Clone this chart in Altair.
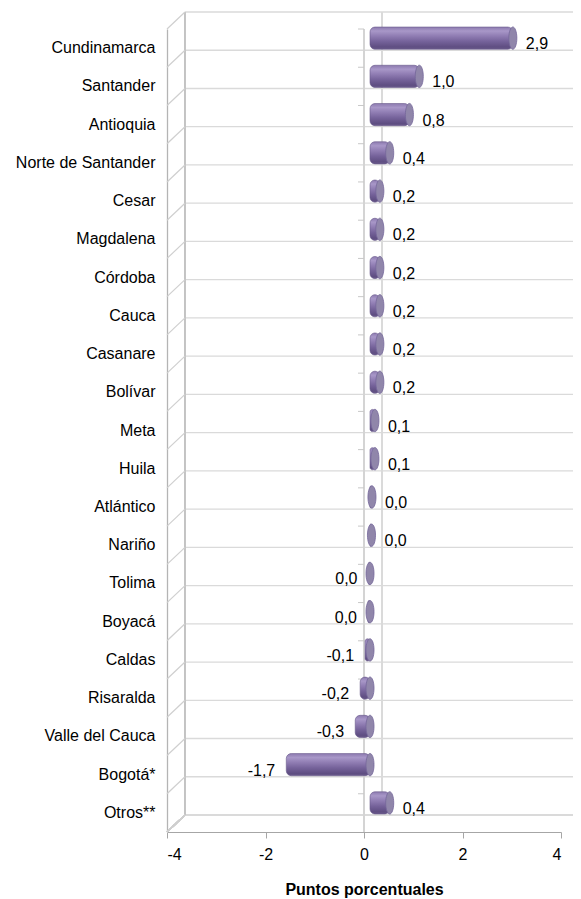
import altair as alt
import pandas as pd

# ---- data ----
departamentos = ["Cundinamarca", "Santander", "Antioquia", "Norte de Santander", "Cesar",
                 "Magdalena", "Córdoba", "Cauca", "Casanare", "Bolívar", "Meta", "Huila",
                 "Atlántico", "Nariño", "Tolima", "Boyacá", "Caldas", "Risaralda",
                 "Valle del Cauca", "Bogotá*", "Otros**"]
valores = [2.9, 1.0, 0.8, 0.4, 0.2, 0.2, 0.2, 0.2, 0.2, 0.2, 0.1, 0.1,
           0.04, 0.03, -0.03, -0.04, -0.1, -0.2, -0.3, -1.7, 0.4]
etiquetas = ["2,9", "1,0", "0,8", "0,4", "0,2", "0,2", "0,2", "0,2", "0,2", "0,2", "0,1", "0,1",
             "0,0", "0,0", "0,0", "0,0", "-0,1", "-0,2", "-0,3", "-1,7", "0,4"]
x_ticks = [-4, -2, 0, 2, 4]

df = pd.DataFrame({"dep": departamentos, "val": valores, "lab": etiquetas})
df["cap"] = df["val"].clip(lower=0)

W, H = 394, 803
DX, DY = 18, -17          # depth shift of the back plane
BX, BY = 6, -10           # depth shift of the bars
FONT = "Liberation Sans"
FS = 16

xs = alt.Scale(domain=[-4, 4], nice=False, zero=False)
ys = alt.Scale(domain=departamentos, paddingInner=0, paddingOuter=0)

yaxis = alt.Axis(ticks=False, labelPadding=12, domainColor="#b4b4b4", domainWidth=1.3,
                 title=None, grid=False)

base = alt.Chart(df)

def ycat(bp):
    return alt.Y("dep:N", sort=departamentos, scale=ys, bandPosition=bp, axis=yaxis)

# back wall horizontal gridlines
back_h = base.mark_rule(color="#dadada", strokeWidth=1.3, xOffset=DX, x2Offset=DX, yOffset=DY).encode(
    y=ycat(0), x=alt.value(0), x2=alt.value(W))
back_h_bottom = base.mark_rule(color="#dadada", strokeWidth=1.3, xOffset=DX, x2Offset=DX, yOffset=DY).encode(
    y=alt.value(H), x=alt.value(0), x2=alt.value(W))

# back wall vertical edge (-4) and zero gridline
back_edge = base.mark_rule(color="#c4c4c4", strokeWidth=1.3, xOffset=DX, yOffset=DY, y2Offset=DY).encode(
    x=alt.value(0), y=alt.value(0), y2=alt.value(H))
back_zero = base.mark_rule(color="#dadada", strokeWidth=1.3, xOffset=DX, yOffset=DY, y2Offset=DY).encode(
    x=alt.datum(0, scale=xs), y=alt.value(0), y2=alt.value(H))

# left wall diagonals
diag = base.mark_rule(color="#cfcfcf", strokeWidth=1.2, y2Offset=DY).encode(
    x=alt.value(0), x2=alt.value(DX), y=ycat(0), y2=alt.Y2("dep:N", bandPosition=0))
diag_bottom = base.mark_rule(color="#cfcfcf", strokeWidth=1.2).encode(
    x=alt.value(0), x2=alt.value(DX), y=alt.value(H), y2=alt.value(H + DY))

# front category axis at zero with tick marks
front_zero = base.mark_rule(color="#d4d4d4", strokeWidth=1.3).encode(
    x=alt.datum(0, scale=xs), y=alt.value(0), y2=alt.value(H))
front_ticks = base.mark_rule(color="#c8c8c8", strokeWidth=1, x2Offset=-6).encode(
    x=alt.datum(0, scale=xs), x2=alt.datum(0), y=ycat(0))

grad = alt.Gradient(
    gradient="linear", x1=0, y1=0, x2=0, y2=1,
    stops=[alt.GradientStop(color="#8c7aaf", offset=0),
           alt.GradientStop(color="#a897c8", offset=0.18),
           alt.GradientStop(color="#907db3", offset=0.4),
           alt.GradientStop(color="#75629a", offset=0.65),
           alt.GradientStop(color="#5f4e82", offset=0.9),
           alt.GradientStop(color="#6a5a8b", offset=1)])

bars = base.mark_bar(fill=grad, stroke="#6a5a8b", strokeWidth=0.6, cornerRadius=5,
                     xOffset=BX, x2Offset=BX, yOffset=BY, y2Offset=BY,
                     height={"band": 0.58}).encode(
    x=alt.X("val:Q", scale=xs,
            axis=alt.Axis(values=x_ticks, grid=False, title="Puntos porcentuales",
                          labelExpr="datum.value + ''",
                          domainColor="#a6a6a6", tickColor="#a6a6a6", tickSize=6,
                          labelPadding=8, titlePadding=19)),
    x2=alt.datum(0),
    y=ycat(0.5),
)

ellipse = "M0,-1 A0.36,1 0 1,1 0,1 A0.36,1 0 1,1 0,-1 Z"
caps = base.mark_point(shape=ellipse, size=500, filled=True, fill="#9086aa", stroke="#75679a",
                       strokeWidth=0.8, opacity=1, xOffset=BX, yOffset=BY).encode(
    x=alt.X("cap:Q", scale=xs), y=ycat(0.5))

txt_pos = base.transform_filter(alt.datum.val > 0).mark_text(
    align="left", baseline="middle", dx=19, dy=-4, font=FONT, fontSize=FS, color="#000000").encode(
    x=alt.X("val:Q", scale=xs), y=ycat(0.5), text="lab:N")
txt_neg = base.transform_filter(alt.datum.val < 0).mark_text(
    align="right", baseline="middle", dx=-5, dy=-4, font=FONT, fontSize=FS, color="#000000").encode(
    x=alt.X("val:Q", scale=xs), y=ycat(0.5), text="lab:N")

chart = alt.layer(
    back_h, back_h_bottom, back_edge, back_zero, diag, diag_bottom,
    front_zero, front_ticks, bars, caps, txt_pos, txt_neg
).properties(
    width=W, height=H,
    autosize=alt.AutoSizeParams(type="none"),
    padding={"left": 159, "top": 21, "right": 12, "bottom": 67},
).configure_view(stroke=None).configure_axis(
    labelFont=FONT, labelFontSize=FS, labelColor="#000000",
    titleFont=FONT, titleFontSize=16, titleFontWeight="bold", titleColor="#000000",
)

chart.save("out.html", embed_options={"renderer": "svg", "actions": False})
